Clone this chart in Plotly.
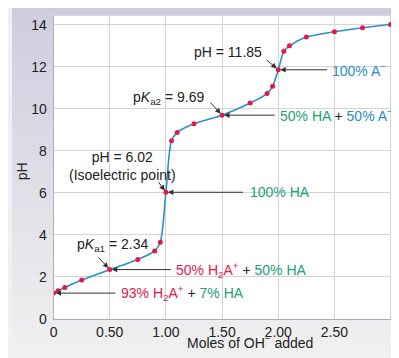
import plotly.graph_objects as go

# ---- data ----
moles_oh = [0, 0.04, 0.1, 0.25, 0.5, 0.75, 0.9, 0.95, 1.0, 1.05, 1.1, 1.25,
            1.5, 1.75, 1.9, 1.95, 2.0, 2.05, 2.1, 2.25, 2.5, 2.75, 3.0]
ph_values = [1.22, 1.33, 1.49, 1.84, 2.34, 2.82, 3.23, 3.64, 6.02, 8.47, 8.87, 9.28,
             9.69, 10.27, 10.72, 11.07, 11.85, 12.73, 12.99, 13.41, 13.66, 13.85, 14.01]
x_tickvals = [0, 0.5, 1.0, 1.5, 2.0, 2.5, 3.0]
x_ticktext = ["0", "0.50", "1.00", "1.50", "2.00", "2.50", "3.00"]
y_tickvals = [0, 2, 4, 6, 8, 10, 12, 14]

RED = "#e4184c"
GREEN = "#21a07c"
BLUE = "#2a8cc4"
LINE = "#2e90c6"
FONT = "Liberation Sans, Arial, sans-serif"
BG_TOP = "rgb(205,205,223)"
BG_BOTTOM = "rgb(240,240,240)"

fig = go.Figure()
# full-figure background gradient (style only), on a hidden subplot below the chart
fig.add_trace(go.Heatmap(
    x=[0, 1], y=[0, 1], z=[[1, 1], [0, 0]], xaxis="x", yaxis="y",
    colorscale=[[0, BG_TOP], [1, BG_BOTTOM]], zsmooth="best",
    showscale=False, hoverinfo="skip"))
# the titration curve
fig.add_trace(go.Scatter(
    x=moles_oh, y=ph_values, mode="lines+markers", xaxis="x2", yaxis="y2",
    line=dict(color=LINE, width=1.6, shape="spline", smoothing=0.8),
    marker=dict(color=RED, size=5), hoverinfo="skip"))

anns = []
def arrow(tipx, tipy, tailx, taily):
    anns.append(dict(x=tipx, y=tipy, ax=tailx, ay=taily, xref="x2", yref="y2",
                     axref="x2", ayref="y2", text="", showarrow=True,
                     arrowhead=2, arrowsize=1.1, arrowwidth=1, arrowcolor="#333",
                     standoff=2))
def label(x, y, text, xanchor="center"):
    anns.append(dict(x=x, y=y, xref="x2", yref="y2", text=text, showarrow=False,
                     xanchor=xanchor, yanchor="middle",
                     font=dict(family=FONT, size=14, color="#222")))

# diagonal callouts
label(1.55, 12.70, "pH = 11.85")
arrow(2.0, 11.85, 1.885, 12.37)
label(1.022, 10.52, "p<i>K</i><sub>a2</sub> = 9.69")
arrow(1.5, 9.69, 1.383, 10.37)
label(0.612, 7.26, "pH = 6.02<br>(Isoelectric point)")
arrow(1.0, 6.02, 0.925, 6.57)
label(0.524, 3.50, "p<i>K</i><sub>a1</sub> = 2.34")
arrow(0.5, 2.34, 0.388, 2.99)

# horizontal callouts
def sp(c, t):
    return '<span style="color:%s">%s</span>' % (c, t)
arrow(2.0, 11.85, 2.449, 11.85)
label(2.46, 11.85, sp(BLUE, "100% A<sup>−</sup>"), "left")
arrow(1.5, 9.69, 1.982, 9.69)
label(2.0, 9.69, sp(GREEN, "50% HA") + " + " + sp(BLUE, "50% A<sup>−</sup>"), "left")
arrow(1.0, 6.02, 1.70, 6.02)
label(1.73, 6.02, sp(GREEN, "100% HA"), "left")
arrow(0.5, 2.34, 1.057, 2.34)
label(1.07, 2.34, sp(RED, "50% H<sub>2</sub>A<sup>+</sup>") + " + " + sp(GREEN, "50% HA"), "left")
arrow(0.0, 1.22, 0.564, 1.22)
label(0.585, 1.22, sp(RED, "93% H<sub>2</sub>A<sup>+</sup>") + " + " + sp(GREEN, "7% HA"), "left")

# axis titles (paper = whole figure here)
anns.append(dict(x=0.614, y=0.023, xref="paper", yref="paper", text="Moles of OH<sup>−</sup> added",
                 showarrow=False, xanchor="center", yanchor="middle",
                 font=dict(family=FONT, size=14, color="#222")))
anns.append(dict(x=0.026, y=0.523, xref="paper", yref="paper", text="pH", textangle=-90,
                 showarrow=False, xanchor="center", yanchor="middle",
                 font=dict(family=FONT, size=14, color="#222")))

W, H = 391, 350
L, T, B = 42, 8, 32

fig.update_layout(
    width=W, height=H,
    margin=dict(l=0, r=0, t=0, b=0),
    paper_bgcolor=BG_BOTTOM, plot_bgcolor="white",
    showlegend=False, annotations=anns,
    font=dict(family=FONT, size=14, color="#222"),
    xaxis=dict(domain=[0, 1], range=[0, 1], visible=False, fixedrange=True),
    yaxis=dict(domain=[0, 1], range=[0, 1], visible=False, fixedrange=True),
    xaxis2=dict(domain=[L / W, 1], anchor="y2", range=[0, 3.075],
                tickvals=x_tickvals, ticktext=x_ticktext,
                showgrid=True, gridcolor="#d4d4d4", gridwidth=1,
                zeroline=False, showline=True, linecolor="#b0b0b0", linewidth=1,
                ticks="", tickfont=dict(size=14, color="#222")),
    yaxis2=dict(domain=[B / H, (H - T) / H], anchor="x2", range=[0, 14.42],
                tickvals=y_tickvals,
                showgrid=True, gridcolor="#d4d4d4", gridwidth=1,
                zeroline=False, showline=True, linecolor="#b0b0b0", linewidth=1,
                ticks="outside", ticklen=3, tickcolor="rgba(0,0,0,0)",
                tickfont=dict(size=14, color="#222")),
)

fig.write_html("out.html")
